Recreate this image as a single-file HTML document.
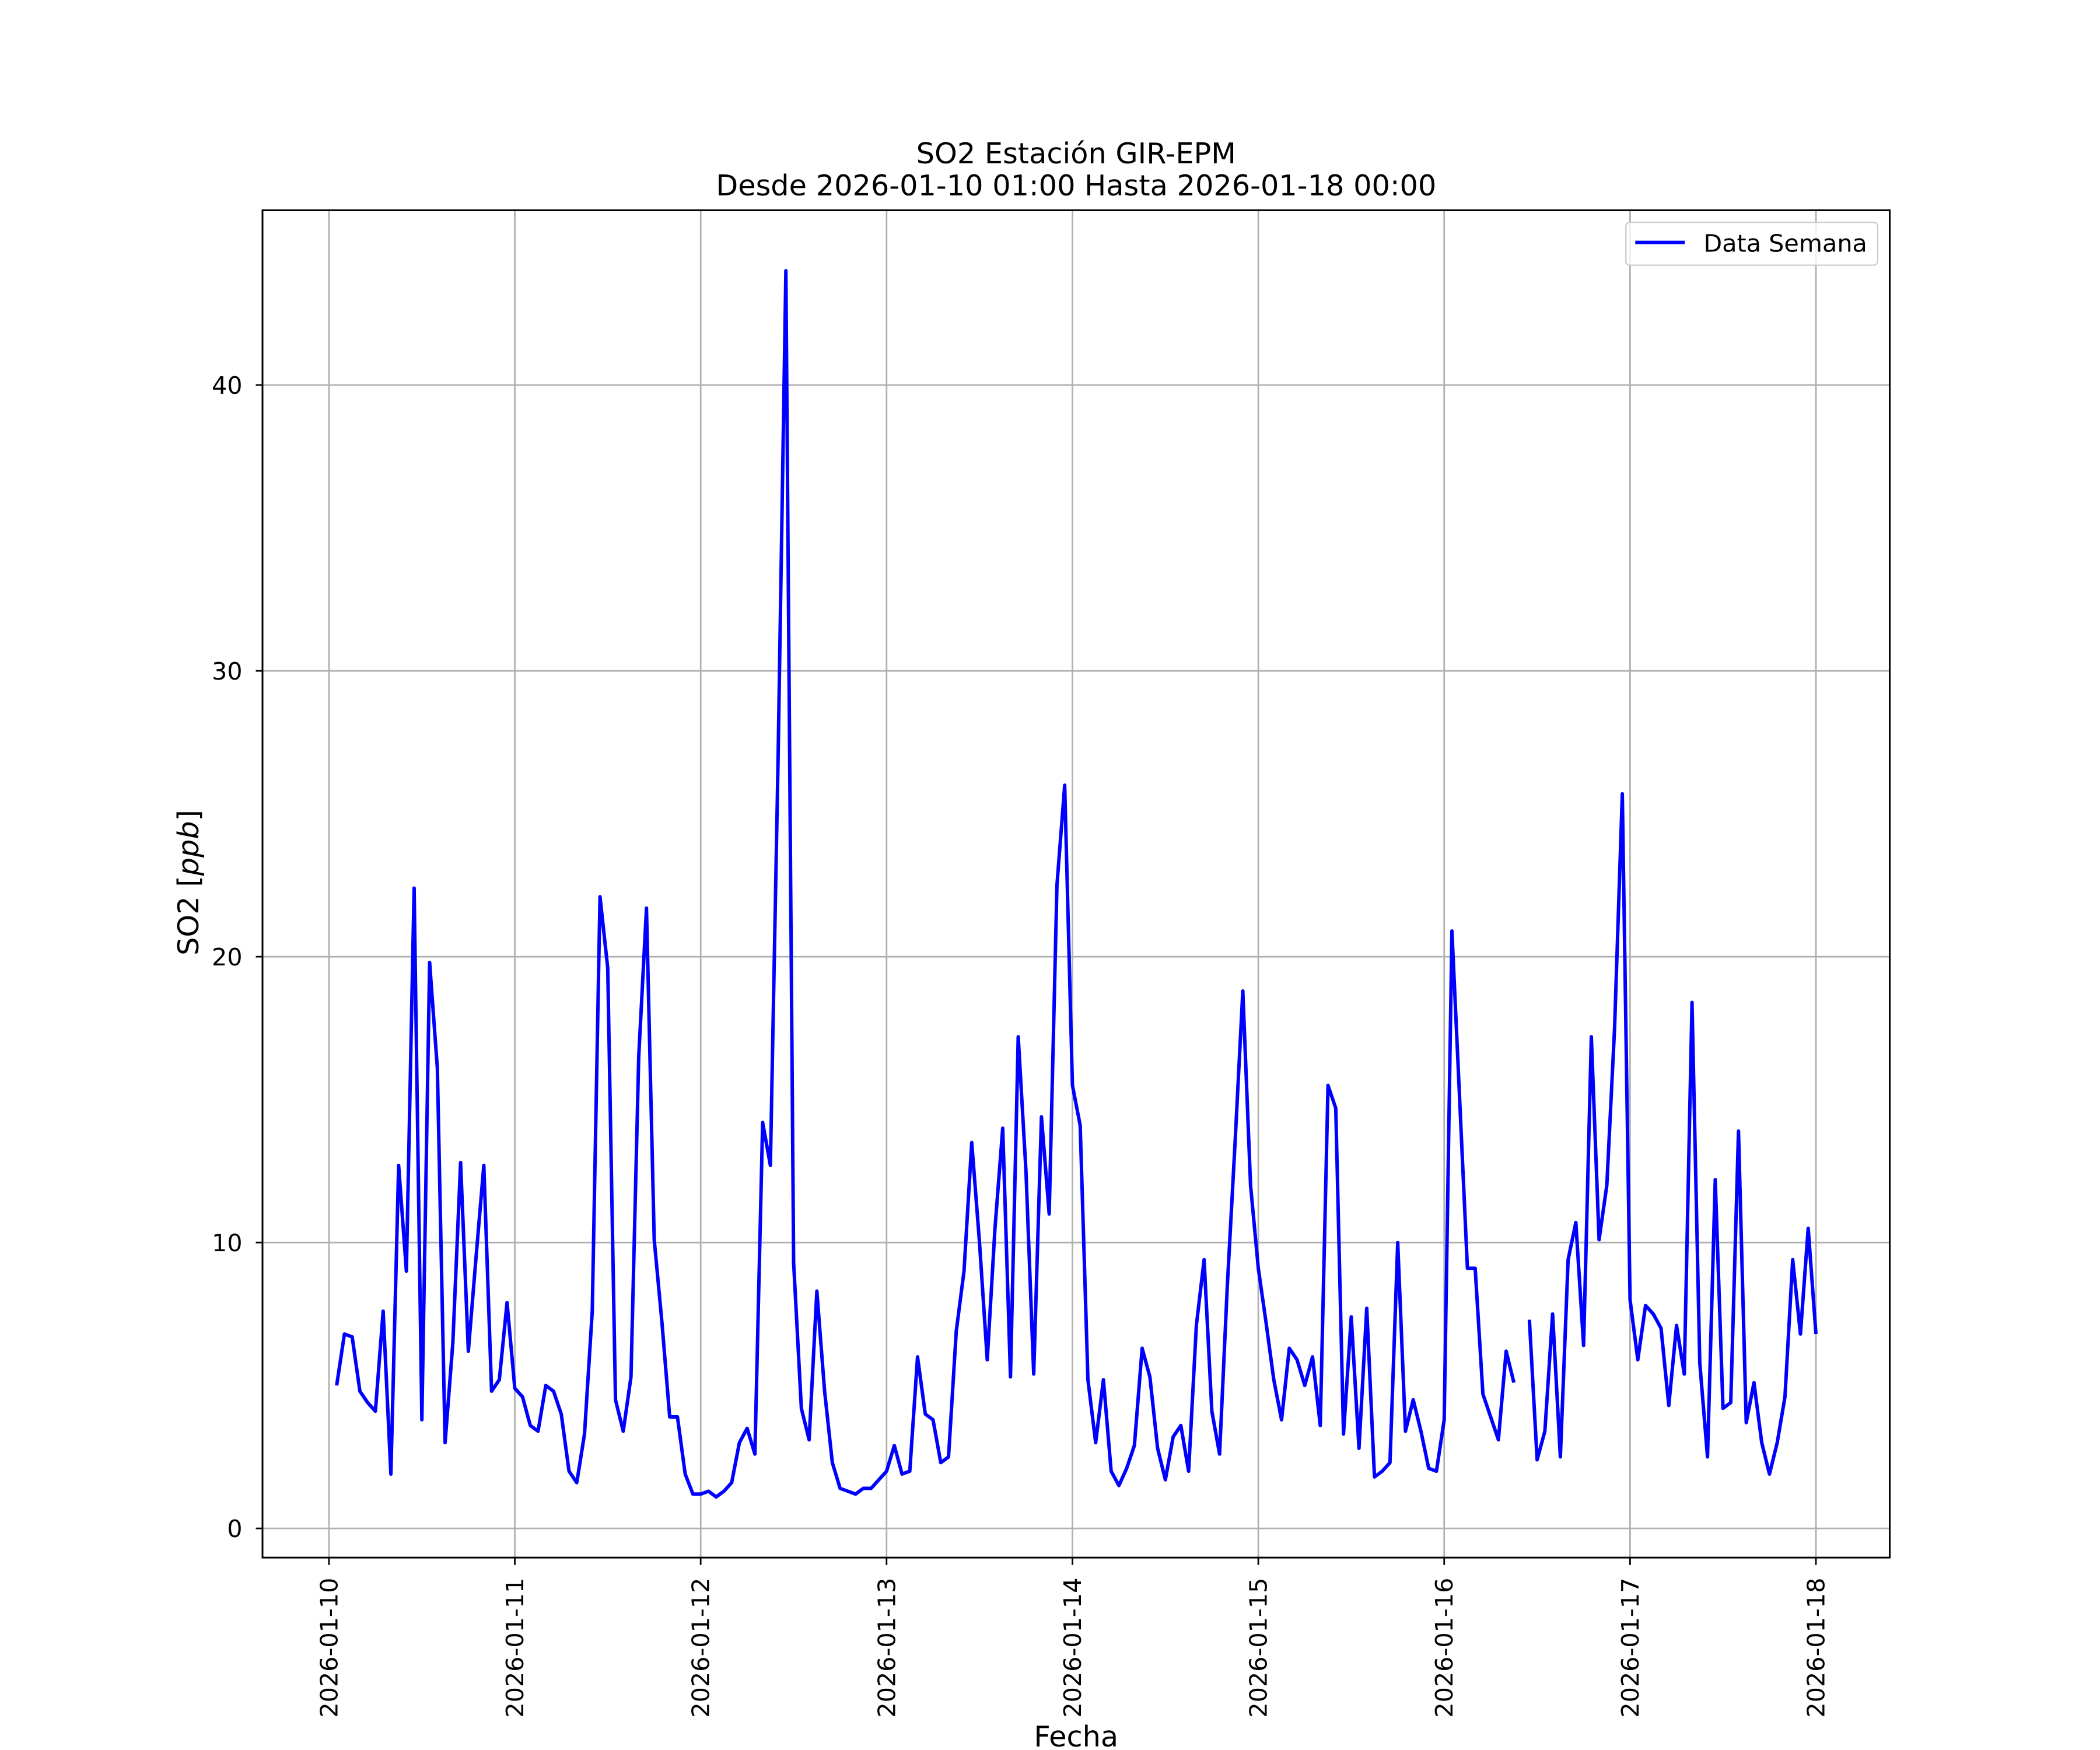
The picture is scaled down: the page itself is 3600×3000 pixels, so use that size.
<!DOCTYPE html>
<html><head><meta charset="utf-8"><style>
html,body{margin:0;padding:0;background:#fff;overflow:hidden;}
svg{display:block;font-family:"DejaVu Sans","Liberation Sans",sans-serif;}
</style></head><body>
<svg id="chart" width="3600" height="3000" viewBox="0 0 1568 1306.67" xmlns="http://www.w3.org/2000/svg">
<rect x="0" y="0" width="1568" height="1306.67" fill="#fff"/>
<g id="grid"></g>
<g id="ticks"></g>
<path id="series" fill="none" stroke="#0000ff" stroke-width="2.6" stroke-linejoin="round"/>
<rect x="196" y="157" width="1215" height="1006" fill="none" stroke="#000" stroke-width="1.3"/>
<text x="803.5" y="122" font-size="21.5" text-anchor="middle">SO2 Estación GIR-EPM</text>
<text x="803.5" y="146" font-size="21.5" text-anchor="middle">Desde 2026-01-10 01:00 Hasta 2026-01-18 00:00</text>
<text transform="translate(148,659) rotate(-90)" font-size="21.5" text-anchor="middle">SO2 [<tspan font-style="italic">ppb</tspan>]</text>
<text x="803.5" y="1304" font-size="21.5" text-anchor="middle">Fecha</text>
<g>
<rect x="1214" y="166" width="188" height="32" rx="3" fill="#fff" fill-opacity="0.8" stroke="#ccc" stroke-width="1"/>
<line x1="1221" y1="181" x2="1258" y2="181" stroke="#0000ff" stroke-width="2.6"/>
<text x="1272" y="188" font-size="18">Data Semana</text>
</g>
</svg>
<script>
const yTicks = [0, 10, 20, 30, 40];
const xTickLabels = ["2026-01-10","2026-01-11","2026-01-12","2026-01-13","2026-01-14","2026-01-15","2026-01-16","2026-01-17","2026-01-18"];
const startHour = 1;
const so2Values = [5.0,6.8,6.7,4.8,4.4,4.1,7.6,1.9,12.7,9.0,22.4,3.8,19.8,16.1,3.0,6.5,12.8,6.2,9.5,12.7,4.8,5.2,7.9,4.9,
4.6,3.6,3.4,5.0,4.8,4.0,2.0,1.6,3.3,7.6,22.1,19.6,4.5,3.4,5.3,16.5,21.7,10.1,7.2,3.9,3.9,1.9,1.2,1.2,
1.3,1.1,1.3,1.6,3.0,3.5,2.6,14.2,12.7,27.0,44.0,9.3,4.2,3.1,8.3,4.8,2.3,1.4,1.3,1.2,1.4,1.4,1.7,2.0,
2.9,1.9,2.0,6.0,4.0,3.8,2.3,2.5,6.9,9.0,13.5,10.0,5.9,10.5,14.0,5.3,17.2,12.5,5.4,14.4,11.0,22.5,26.0,15.5,
14.1,5.2,3.0,5.2,2.0,1.5,2.1,2.9,6.3,5.3,2.8,1.7,3.2,3.6,2.0,7.1,9.4,4.1,2.6,8.5,13.5,18.8,12.0,9.1,
7.2,5.2,3.8,6.3,5.9,5.0,6.0,3.6,15.5,14.7,3.3,7.4,2.8,7.7,1.8,2.0,2.3,10.0,3.4,4.5,3.4,2.1,2.0,3.8,
20.9,15.0,9.1,9.1,4.7,3.9,3.1,6.2,5.1,null,7.3,2.4,3.4,7.5,2.5,9.4,10.7,6.4,17.2,10.1,12.0,17.5,25.7,8.0,
5.9,7.8,7.5,7.0,4.3,7.1,5.4,18.4,5.8,2.5,12.2,4.2,4.4,13.9,3.7,5.1,3.0,1.9,3.0,4.6,9.4,6.8,10.5,6.8];

const NS = "http://www.w3.org/2000/svg";
function xScale(hour){ return 245.6 + hour * (1355.9 - 245.6) / 192; }
function yScale(v){ return 1141.2 - v * (1141.2 - 287.5) / 40; }

const grid = document.getElementById('grid');
const ticks = document.getElementById('ticks');
function mk(tag, attrs, parent){ const e = document.createElementNS(NS, tag); for (const k in attrs) e.setAttribute(k, attrs[k]); parent.appendChild(e); return e; }

yTicks.forEach(function(v){
  const y = yScale(v);
  const g = mk('line', {x1:196, x2:1411, y1:y, y2:y, stroke:'#b0b0b0', 'stroke-width':1.2}, grid);
  
  
  const t = mk('line', {x1:191, x2:196, y1:y, y2:y, stroke:'#000', 'stroke-width':1.2}, ticks);
  
  
  const l = mk('text', {x:181, y:y+6.5, 'font-size':18, 'text-anchor':'end'}, ticks);
  l.textContent = String(v);
  
  
});

xTickLabels.forEach(function(lab, i){
  const x = xScale(i * 24);
  const g = mk('line', {x1:x, x2:x, y1:157, y2:1163, stroke:'#b0b0b0', 'stroke-width':1.2}, grid);
  
  
  const t = mk('line', {x1:x, x2:x, y1:1163, y2:1168.5, stroke:'#000', 'stroke-width':1.2}, ticks);
  
  
  const l = mk('text', {transform:'translate(' + (x+6.3) + ',1178) rotate(-90)', 'font-size':18, 'text-anchor':'end'}, ticks);
  l.textContent = lab;
  
  
});

let d = '', pen = false;
so2Values.forEach(function(v, i){
  if (v === null) { pen = false; return; }
  const x = xScale(startHour + i), y = yScale(v);
  d += (pen ? 'L' : 'M') + x.toFixed(2) + ' ' + y.toFixed(2) + ' ';
  pen = true;
});
document.getElementById('series').setAttribute('d', d);
</script>
</body></html>
